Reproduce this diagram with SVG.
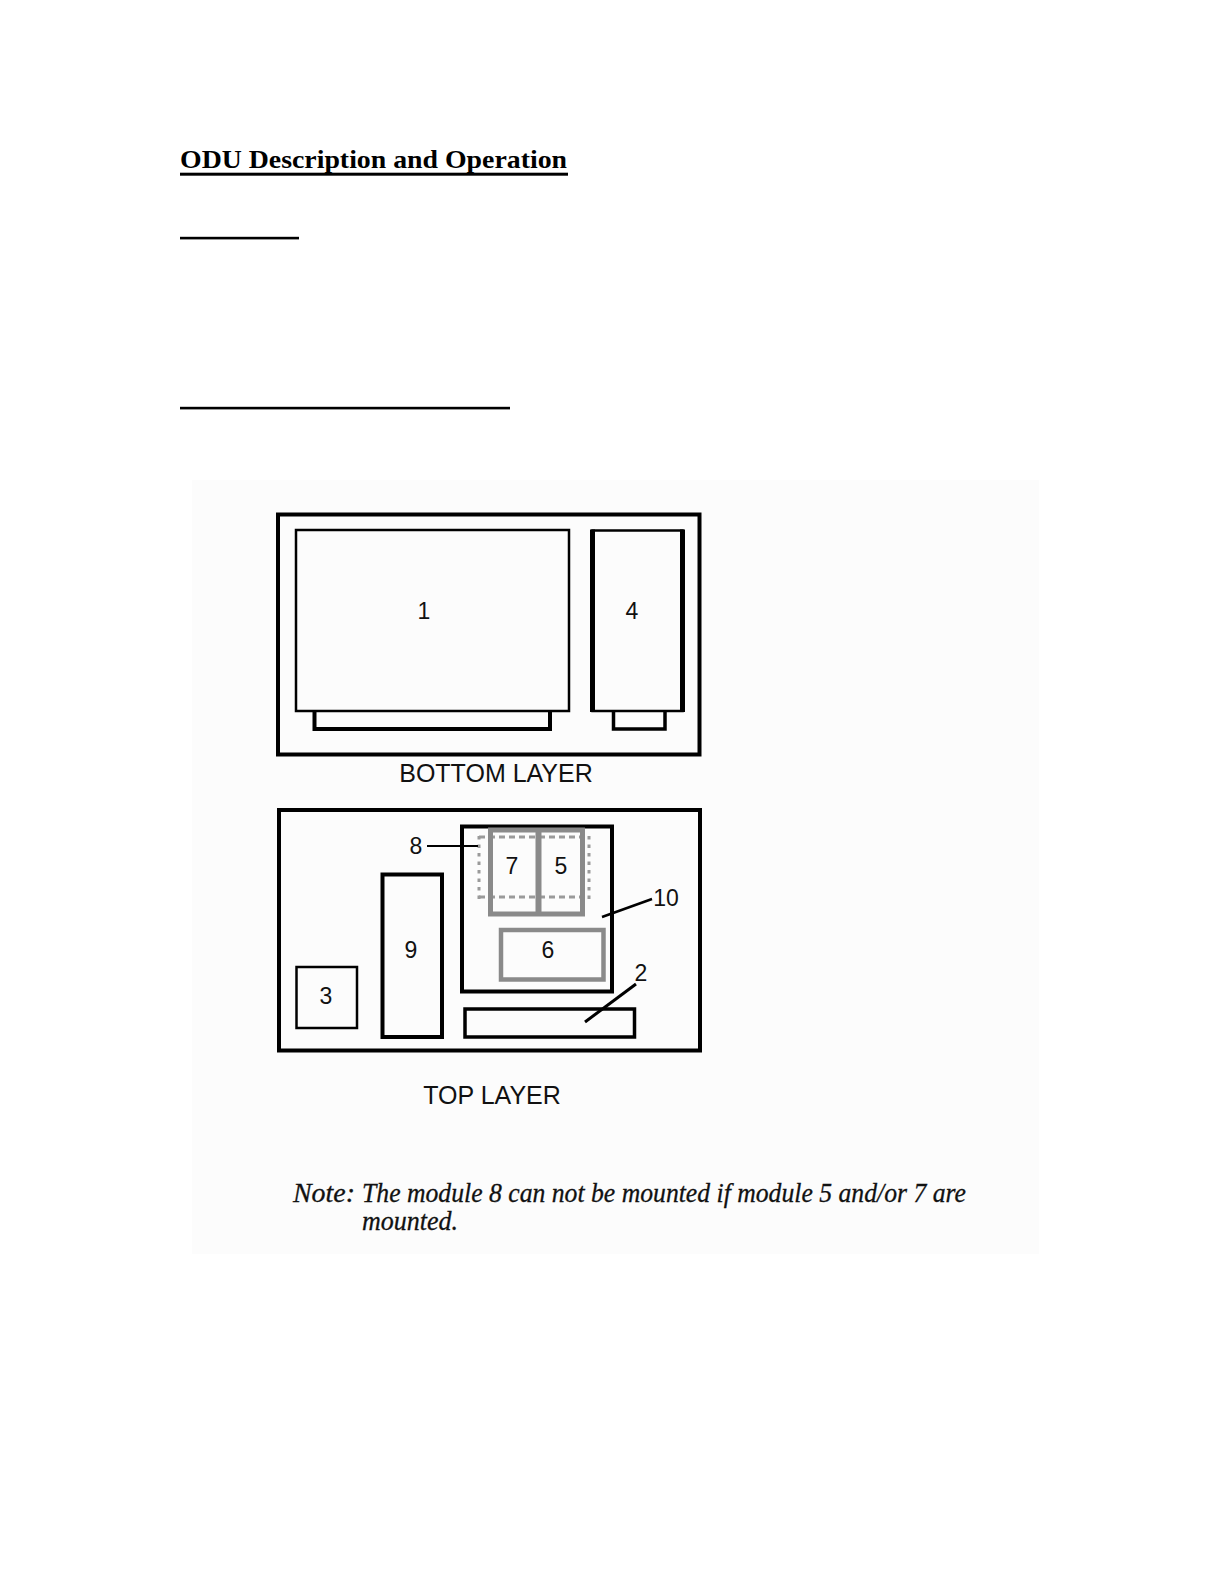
<svg xmlns="http://www.w3.org/2000/svg" width="1224" height="1584" viewBox="0 0 1224 1584">
<style>
.blk{fill:none;stroke:#000;}
.gry{fill:none;stroke:#8a8a8a;}
.dash{fill:none;stroke:#9a9a9a;stroke-width:3;}
.num{font-family:"Liberation Sans",Arial,sans-serif;font-size:23px;fill:#111;text-anchor:middle;}
.cap{font-family:"Liberation Sans",Arial,sans-serif;font-size:25px;fill:#111;text-anchor:middle;}
.note{font-family:"Liberation Serif","Times New Roman",serif;font-style:italic;font-size:27px;fill:#111;stroke:#111;stroke-width:0.3;}
.lead{stroke:#000;fill:none;}
</style>
<rect x="0" y="0" width="1224" height="1584" fill="#ffffff"/>
<g id="heading">
<text x="180" y="168" font-family="'Liberation Serif','Times New Roman',serif" font-weight="bold" font-size="26" textLength="387" lengthAdjust="spacingAndGlyphs" fill="#000">ODU Description and Operation</text>
<rect x="180" y="172.7" width="388" height="3" fill="#000"/>
<rect x="180" y="236.8" width="119" height="2.6" fill="#000"/>
<rect x="180" y="406.8" width="330" height="2.6" fill="#000"/>
</g>
<rect id="figure-bg" x="192" y="480" width="847" height="774" fill="#fcfcfc"/>
<g id="bottom-layer">
<rect class="blk" x="278" y="514.5" width="421.5" height="240" stroke-width="4"/>
<text class="cap" x="496" y="782">BOTTOM LAYER</text>
</g>
<g id="module-1">
<rect class="blk" x="296" y="530" width="273" height="181" stroke-width="2.5"/>
<path class="blk" d="M314.5,711 V729 H550 V711" stroke-width="4"/>
<text class="num" x="424" y="619">1</text>
</g>
<g id="module-4">
<rect class="blk" x="592.5" y="530.5" width="90" height="180.5" stroke-width="2.5"/>
<line class="blk" x1="592.5" y1="529.5" x2="592.5" y2="712" stroke-width="5"/>
<line class="blk" x1="682.5" y1="529.5" x2="682.5" y2="712" stroke-width="5"/>
<path class="blk" d="M613.5,711 V729 H665 V711" stroke-width="3.5"/>
<text class="num" x="632" y="619">4</text>
</g>
<g id="top-layer">
<rect class="blk" x="279" y="810" width="421" height="240.5" stroke-width="4"/>
<text class="cap" x="492" y="1104">TOP LAYER</text>
</g>
<g id="module-3">
<rect class="blk" x="296.5" y="967" width="60.5" height="61" stroke-width="2.5"/>
<text class="num" x="326" y="1004">3</text>
</g>
<g id="module-9">
<rect class="blk" x="382.5" y="874.5" width="59.5" height="162.5" stroke-width="4"/>
<text class="num" x="411" y="958">9</text>
</g>
<g id="module-10">
<rect class="blk" x="462" y="826.5" width="150" height="165" stroke-width="4"/>
</g>
<g id="module-8">
<line class="dash" x1="479" y1="837" x2="589" y2="837" stroke-dasharray="6,4"/>
<line class="dash" x1="479" y1="897" x2="589" y2="897" stroke-dasharray="6,4"/>
<line class="dash" x1="479" y1="836" x2="479" y2="899" stroke-dasharray="3.5,5"/>
<line class="dash" x1="589" y1="836" x2="589" y2="899" stroke-dasharray="3.5,5"/>
<text class="num" x="416" y="854">8</text>
</g>
<g id="module-7-5">
<rect class="gry" x="490.5" y="830" width="92" height="84" stroke-width="5"/>
<line class="gry" x1="538.5" y1="830" x2="538.5" y2="914" stroke-width="6"/>
</g>
<g id="module-7">
<text class="num" x="512" y="874">7</text>
</g>
<g id="module-5">
<text class="num" x="561" y="874">5</text>
</g>
<g id="module-6">
<rect class="gry" x="501" y="930" width="102.5" height="49.5" stroke-width="4.5"/>
<text class="num" x="548" y="958">6</text>
</g>
<g id="module-2">
<rect class="blk" x="465" y="1009" width="169.5" height="28" stroke-width="3.5"/>
</g>
<g id="labels">
<text class="num" x="666" y="906">10</text>
<text class="num" x="641" y="981">2</text>
</g>
<g id="connectors">
<line class="lead" x1="427" y1="846" x2="478" y2="846" stroke-width="2"/>
<line class="lead" x1="602" y1="917" x2="652" y2="899" stroke-width="2.5"/>
<line class="lead" x1="585" y1="1022" x2="636" y2="984" stroke-width="3"/>
</g>
<g id="note">
<text class="note" x="293" y="1202" textLength="62" lengthAdjust="spacingAndGlyphs">Note:</text>
<text class="note" x="362" y="1202" textLength="604" lengthAdjust="spacingAndGlyphs">The module 8 can not be mounted if module 5 and/or 7 are</text>
<text class="note" x="362" y="1230" textLength="96" lengthAdjust="spacingAndGlyphs">mounted.</text>
</g>
</svg>
